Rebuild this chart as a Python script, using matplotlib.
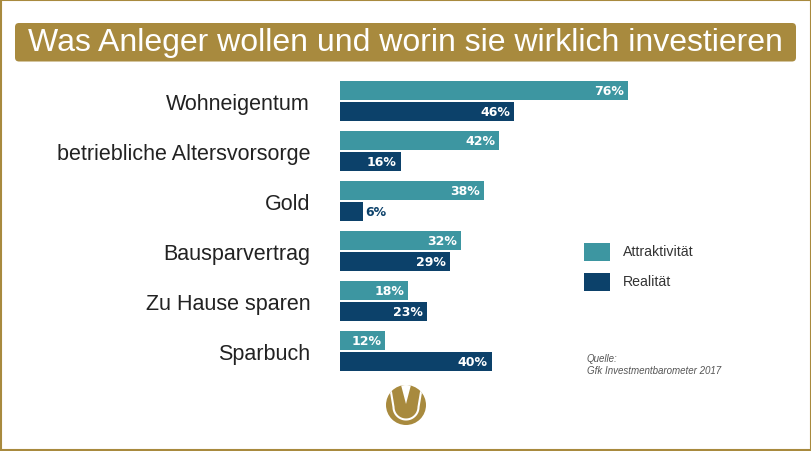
import matplotlib.pyplot as plt
import numpy as np
from matplotlib.patches import FancyBboxPatch, Rectangle, Circle, Polygon

# data
categories = ['Wohneigentum', 'betriebliche Altersvorsorge', 'Gold',
              'Bausparvertrag', 'Zu Hause sparen', 'Sparbuch']
attraktivitaet = [76, 42, 38, 32, 18, 12]
realitaet = [46, 16, 6, 29, 23, 40]
series_names = ['Attraktivität', 'Realität']
title = 'Was Anleger wollen und worin sie wirklich investieren'
source_lines = ['Quelle:', 'Gfk Investmentbarometer 2017']

TEAL = '#3d96a1'
NAVY = '#0c416a'
GOLD = '#a88a3e'
W, H = 812, 452

plt.rcParams['font.family'] = ['Liberation Sans', 'DejaVu Sans']

fig = plt.figure(figsize=(W / 100, H / 100), dpi=100)

# background layer in pixel coordinates (y from top)
bg = fig.add_axes([0, 0, 1, 1])
bg.set_xlim(0, W)
bg.set_ylim(H, 0)
bg.axis('off')

bg.add_patch(Rectangle((1, 1), W - 2, H - 2, fill=False, ec=GOLD, lw=1.5))
bg.add_patch(FancyBboxPatch((15, 24), 781, 38.5,
                            boxstyle='round,pad=0,rounding_size=4',
                            fc=GOLD, ec='none'))
bg.text(405.5, 43.5, title, color='white', fontsize=23,
        ha='center', va='center')

# legend
for i, (name, col) in enumerate(zip(series_names, [TEAL, NAVY])):
    y0 = 244 + i * 30
    bg.add_patch(Rectangle((584, y0), 26, 18.3, fc=col, ec='none'))
    bg.text(623, y0 + 8.5, name, fontsize=10.2, color='#333333',
            va='center', ha='left')

# source
for i, line in enumerate(source_lines):
    bg.text(587, 359 + i * 12, line, fontsize=7, color='#555555',
            style='italic', va='center', ha='left')

# logo
cx, cy, r = 406, 406, 20
ring = Circle((cx, cy), r, fc=GOLD, ec='none')
bg.add_patch(ring)
t = np.linspace(0, np.pi, 40)
ux = np.concatenate([[cx - 15.5], cx - 12.5 * np.cos(t), [cx + 15.5]])
uy = np.concatenate([[cy - 16], cy + 2 + 12.5 * np.sin(t), [cy - 16]])
uline, = bg.plot(ux, uy, color='white', lw=1.5, solid_capstyle='butt')
uline.set_clip_path(ring)
notch = Polygon([(cx - 5.5, cy - 22), (cx + 5.5, cy - 22), (cx, cy - 1)],
                fc='white', ec='none')
bg.add_patch(notch)
notch.set_clip_path(ring)

# bar chart axes: left edge at x=340 px, groups every 50 px from y=77
ax_left, ax_w = 340, 300
ax_top, ax_h = 77, 300
ax = fig.add_axes([ax_left / W, 1 - (ax_top + ax_h) / H, ax_w / W, ax_h / H])
ax.patch.set_alpha(0)
scale = 288 / 76  # px per percent
ax.set_xlim(0, ax_w / scale)
ax.set_ylim(len(categories) - 0.5, -0.5)

ypos = list(range(len(categories)))
bh = 0.368
off = 0.21
ax.barh([y - off for y in ypos], attraktivitaet, height=bh, color=TEAL)
ax.barh([y + off for y in ypos], realitaet, height=bh, color=NAVY)

for vals, sign in ((attraktivitaet, -1), (realitaet, 1)):
    for y, v in zip(ypos, vals):
        label = f'{v}%'
        kw = dict(fontsize=9, fontweight='bold', family='DejaVu Sans',
                  va='center')
        if v * scale > 30:
            ax.text(v - 4 / scale, y + sign * off, label, color='white',
                    ha='right', **kw)
        else:
            ax.text(v + 3 / scale, y + sign * off, label, color=NAVY,
                    ha='left', **kw)

ax.set_yticks(ypos, categories, fontsize=15.5, color='#222222')
ax.tick_params(axis='y', length=0, pad=21.5)
ax.set_xticks([])
for s in ax.spines.values():
    s.set_visible(False)

fig.savefig('out.png', dpi=100)
